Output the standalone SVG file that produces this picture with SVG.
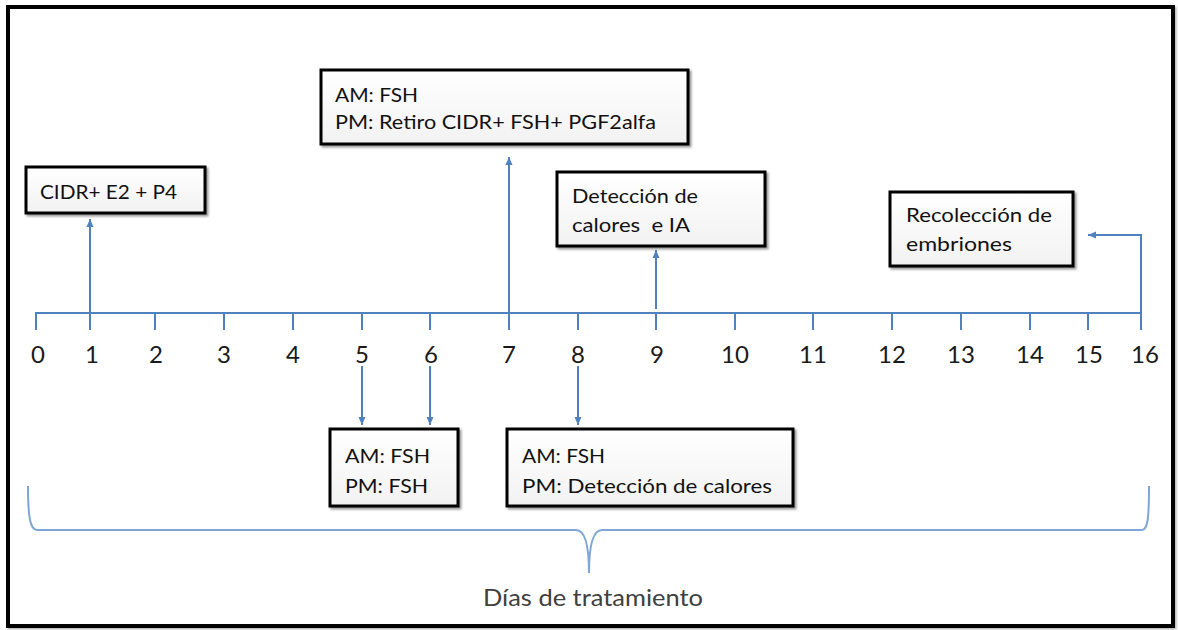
<svg xmlns="http://www.w3.org/2000/svg" width="1178" height="630" viewBox="0 0 1178 630">
<style>
.box{fill:url(#bg);stroke:#000;stroke-width:3;filter:url(#sh)}
.t{font-family:Lato,"Liberation Sans",sans-serif;font-size:19px;fill:#111}
.d{font-family:Lato,"Liberation Sans",sans-serif;font-size:24px;fill:#1a1a1a;text-anchor:middle}
.c{fill:none;stroke:#4F81BD;stroke-width:2}
.ar{marker-end:url(#ah)}
</style>
<defs>
<linearGradient id="bg" x1="0" y1="0" x2="0" y2="1"><stop offset="0" stop-color="#fff"/><stop offset="1" stop-color="#f2f2f2"/></linearGradient>
<filter id="sh" x="-10%" y="-20%" width="120%" height="150%"><feDropShadow dx="2" dy="2" stdDeviation="1.2" flood-color="#000" flood-opacity="0.4"/></filter>
<filter id="fsh" x="-2%" y="-2%" width="104%" height="104%"><feDropShadow dx="1.5" dy="1.5" stdDeviation="1" flood-color="#000" flood-opacity="0.3"/></filter>
<marker id="ah" markerUnits="userSpaceOnUse" markerWidth="9" markerHeight="8" refX="8" refY="4" orient="auto"><path d="M0,0.5 L8,4 L0,7.5 z" fill="#4F81BD"/></marker>
</defs>
<rect x="0" y="0" width="1178" height="630" fill="#fff"/>
<rect id="frame" x="8" y="7" width="1165" height="619" fill="#fff" stroke="#000" stroke-width="4" filter="url(#fsh)"/>
<g id="connectors">
<line class="c" x1="35" y1="313" x2="1142" y2="313"/>
<path class="c" d="M36,313V330M90,313V330M155,313V330M224,313V330M293,313V330M362,313V330M430,313V330M509,313V330M578,313V330M656,313V330M735,313V330M813,313V330M892,313V330M961,313V330M1030,313V330M1088,313V330M1141,313V330"/>
<line class="c ar" x1="90" y1="313" x2="90" y2="219"/>
<line class="c ar" x1="509" y1="313" x2="509" y2="157"/>
<line class="c ar" x1="656" y1="309" x2="656" y2="250"/>
<polyline class="c ar" points="1141,313 1141,235 1088,235"/>
<line class="c ar" x1="362" y1="366" x2="362" y2="425"/>
<line class="c ar" x1="430" y1="366" x2="430" y2="425"/>
<line class="c ar" x1="578" y1="366" x2="578" y2="425"/>
<path d="M28,486 C28,516 30,530 37,530 L576,530 C585,530 589,545 589,573 C589,545 593,530 602,530 L1142,530 C1148,530 1149,516 1149,486" fill="none" stroke="#7FA6D6" stroke-width="2"/>
</g>
<g id="axis-labels">
<text class="d" x="38" y="363">0</text>
<text class="d" x="92" y="363">1</text>
<text class="d" x="156" y="363">2</text>
<text class="d" x="224" y="363">3</text>
<text class="d" x="293" y="363">4</text>
<text class="d" x="362" y="363">5</text>
<text class="d" x="431" y="363">6</text>
<text class="d" x="509" y="363">7</text>
<text class="d" x="578" y="363">8</text>
<text class="d" x="657" y="363">9</text>
<text class="d" x="735" y="363">10</text>
<text class="d" x="813" y="363">11</text>
<text class="d" x="892" y="363">12</text>
<text class="d" x="961" y="363">13</text>
<text class="d" x="1030" y="363">14</text>
<text class="d" x="1089" y="363">15</text>
<text class="d" x="1145" y="363">16</text>
</g>
<g id="n1">
<rect class="box" x="26" y="167" width="179" height="46"/>
<text class="t" x="40" y="199" textLength="137" lengthAdjust="spacingAndGlyphs">CIDR+ E2 + P4</text>
</g>
<g id="n2">
<rect class="box" x="321" y="70" width="367" height="74"/>
<text class="t" x="335" y="102" textLength="83" lengthAdjust="spacingAndGlyphs">AM: FSH</text>
<text class="t" x="335" y="129" textLength="321" lengthAdjust="spacingAndGlyphs">PM: Retiro CIDR+ FSH+ PGF2alfa</text>
</g>
<g id="n3">
<rect class="box" x="557" y="172" width="208" height="74"/>
<text class="t" x="572" y="203" textLength="126" lengthAdjust="spacingAndGlyphs">Detección de</text>
<text class="t" x="572" y="232" textLength="118" lengthAdjust="spacingAndGlyphs" xml:space="preserve">calores  e IA</text>
</g>
<g id="n4">
<rect class="box" x="890" y="192" width="183" height="74"/>
<text class="t" x="906" y="222" textLength="146" lengthAdjust="spacingAndGlyphs">Recolección de</text>
<text class="t" x="906" y="251" textLength="106" lengthAdjust="spacingAndGlyphs">embriones</text>
</g>
<g id="n5">
<rect class="box" x="330" y="429" width="128" height="77"/>
<text class="t" x="345" y="463" textLength="85" lengthAdjust="spacingAndGlyphs">AM: FSH</text>
<text class="t" x="345" y="493" textLength="83" lengthAdjust="spacingAndGlyphs">PM: FSH</text>
</g>
<g id="n6">
<rect class="box" x="507" y="429" width="286" height="77"/>
<text class="t" x="522" y="463" textLength="83" lengthAdjust="spacingAndGlyphs">AM: FSH</text>
<text class="t" x="522" y="493" textLength="250" lengthAdjust="spacingAndGlyphs">PM: Detección de calores</text>
</g>
<g id="caption">
<text x="483" y="606" font-family="Lato,'Liberation Sans',sans-serif" font-size="23" fill="#404040" textLength="220" lengthAdjust="spacingAndGlyphs">Días de tratamiento</text>
</g>
</svg>
